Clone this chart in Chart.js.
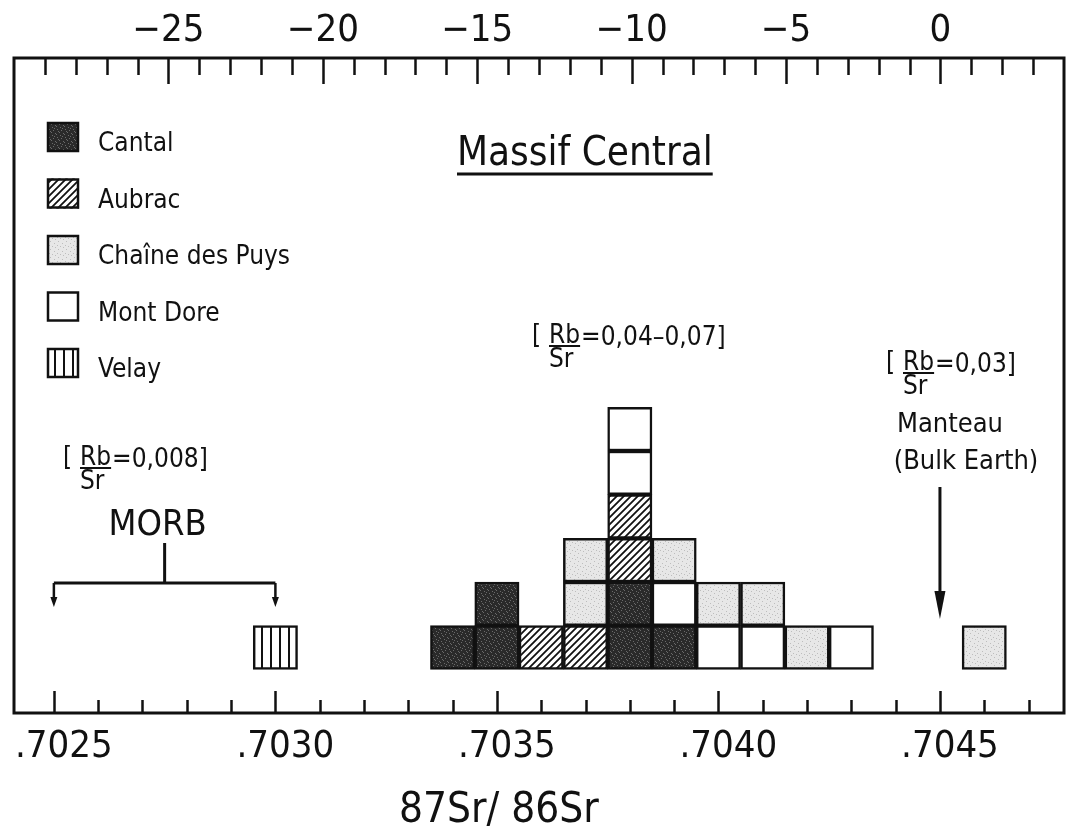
<!DOCTYPE html>
<html>
<head>
<meta charset="utf-8">
<script src="https://cdn.jsdelivr.net/npm/chart.js@4.4.0/dist/chart.umd.min.js"></script>
<style>
  html, body { margin: 0; padding: 0; background: #fff; }
  #wrap { width: 1074px; height: 830px; position: relative; }
</style>
</head>
<body>
<div id="wrap"><canvas id="c"></canvas></div>
<script>
// ── DATA ─────────────────────────────────────────────────────
// 87Sr/86Sr bin centres (bins are .0001 wide)
const bins     = [0.7030, 0.7034, 0.7035, 0.7036, 0.7037, 0.7038, 0.7039, 0.7040, 0.7041, 0.7042, 0.7043, 0.7046];
// samples per bin for each province
const cantal   = [0, 1, 2, 0, 0, 2, 1, 0, 0, 0, 0, 0];
const velay    = [1, 0, 0, 0, 0, 0, 0, 0, 0, 0, 0, 0];
const aubrac   = [0, 0, 0, 1, 1, 2, 0, 0, 0, 0, 0, 0];
const montDore = [0, 0, 0, 0, 0, 2, 1, 1, 1, 0, 1, 0];
const puys     = [0, 0, 0, 0, 2, 0, 1, 1, 1, 1, 0, 1];

const ratioTickValues = [0.7025, 0.7030, 0.7035, 0.7040, 0.7045];
const ratioTickLabels = ['.7025', '.7030', '.7035', '.7040', '.7045'];
const epsTickValues   = [-25, -20, -15, -10, -5, 0];
const epsTickLabels   = ['\u221225', '\u221220', '\u221215', '\u221210', '\u22125', '0'];

const legendNames = ['Cantal', 'Aubrac', 'Cha\u00eene des Puys', 'Mont Dore', 'Velay'];

const MORB_RANGE = [0.7025, 0.7030];
const BULK_EARTH = 0.7045;

const INK  = '#111';
const TEXT = 'DejaVu Sans Condensed';

// ── FILL PATTERNS ────────────────────────────────────────────
const canvas = document.getElementById('c');
const mainCtx = canvas.getContext('2d');

function makePattern(w, h, paint) {
  const t = document.createElement('canvas');
  t.width = w; t.height = h;
  paint(t.getContext('2d'), w, h);
  return mainCtx.createPattern(t, 'repeat');
}

function speckle(base, dot, dots) {
  return makePattern(8, 8, g => {
    g.fillStyle = base; g.fillRect(0, 0, 8, 8);
    g.fillStyle = dot;
    dots.forEach(([x, y]) => g.fillRect(x, y, 1, 1));
  });
}

const FILLS = {
  'Cantal': speckle('#2a2a2a', '#6a6a6a', [[1,1],[5,2],[3,4],[7,5],[0,6],[4,7],[6,0],[2,3]]),
  'Chaîne des Puys': speckle('#e7e7e7', '#bdbdbd', [[2,1],[6,3],[1,5],[4,6],[7,7]]),
  'Mont Dore': '#ffffff',
  'Aubrac': makePattern(7, 7, g => {
    g.fillStyle = '#fff'; g.fillRect(0, 0, 7, 7);
    g.strokeStyle = INK; g.lineWidth = 1.8;
    g.beginPath();
    g.moveTo(-1, 8); g.lineTo(8, -1);
    g.moveTo(-3, 3); g.lineTo(3, -3);
    g.moveTo(4, 10); g.lineTo(10, 4);
    g.stroke();
  }),
  'Velay': makePattern(9, 4, g => {
    g.fillStyle = '#fff'; g.fillRect(0, 0, 9, 4);
    g.fillStyle = INK; g.fillRect(0, 0, 2, 4);
  }),
};

// stacking order, bottom -> top
const SERIES = [
  ['Cantal', cantal],
  ['Velay', velay],
  ['Aubrac', aubrac],
  ['Mont Dore', montDore],
  ['Chaîne des Puys', puys],
];

// one dataset per layer so every sample is its own box
const datasets = [];
SERIES.forEach(([name, counts]) => {
  const layers = Math.max(...counts);
  for (let k = 1; k <= layers; k++) {
    datasets.push({
      label: name,
      data: bins.filter((b, i) => counts[i] >= k).map(b => ({ x: b, y: 1 })),
      backgroundColor: FILLS[name],
      borderColor: INK,
      borderWidth: 2.5,
      borderSkipped: false,
      barPercentage: 1,
      categoryPercentage: 1,
    });
  }
});

// ── DECORATION PLUGIN ────────────────────────────────────────
function drawRatio(ctx, x0, base, value) {
  ctx.font = `26px "${TEXT}"`;
  ctx.textAlign = 'left';
  ctx.textBaseline = 'alphabetic';
  ctx.fillText('[', x0, base);
  const xr = x0 + 17;
  const wRb = ctx.measureText('Rb').width;
  ctx.fillText('Rb', xr, base);
  ctx.lineWidth = 2;
  ctx.beginPath(); ctx.moveTo(xr, base + 3); ctx.lineTo(xr + wRb, base + 3); ctx.stroke();
  ctx.fillText('Sr', xr, base + 24);
  ctx.fillText(value, xr + wRb + 1, base + 2);
}

function arrowDown(ctx, x, y0, y1, headLen, headW) {
  ctx.beginPath(); ctx.moveTo(x, y0); ctx.lineTo(x, y1 - headLen + 2); ctx.stroke();
  ctx.beginPath();
  ctx.moveTo(x - headW / 2, y1 - headLen);
  ctx.lineTo(x + headW / 2, y1 - headLen);
  ctx.lineTo(x, y1);
  ctx.closePath(); ctx.fill();
}

const overlay = {
  id: 'overlay',
  afterDraw(chart) {
    const { ctx, chartArea: a, scales: { x, x2 } } = chart;
    ctx.save();
    ctx.strokeStyle = INK; ctx.fillStyle = INK;

    // frame
    ctx.lineWidth = 3;
    ctx.strokeRect(a.left, a.top, a.right - a.left, a.bottom - a.top);

    // bottom ticks, every .0001, long every .0005
    ctx.lineWidth = 2.5;
    for (let i = Math.ceil(x.min * 1e4); i / 1e4 <= x.max; i++) {
      const px = Math.round(x.getPixelForValue(i / 1e4)) + 0.5;
      const len = i % 5 === 0 ? 22 : 13;
      ctx.beginPath(); ctx.moveTo(px, a.bottom); ctx.lineTo(px, a.bottom - len); ctx.stroke();
    }
    // top ticks, every epsilon unit, long every 5
    for (let e = Math.floor(x2.min) + 1; e < x2.max; e++) {
      const px = Math.round(x2.getPixelForValue(e)) + 0.5;
      const len = e % 5 === 0 ? 26 : 17;
      ctx.beginPath(); ctx.moveTo(px, a.top); ctx.lineTo(px, a.top + len); ctx.stroke();
    }

    // legend
    const lx = a.left + 33, ly = 122, gap = 56.5, bw = 32, bh = 30;
    legendNames.forEach((n, i) => {
      const y = ly + i * gap;
      ctx.fillStyle = FILLS[n];
      ctx.fillRect(lx, y, bw, bh);
      ctx.lineWidth = 2.5;
      ctx.strokeRect(lx + 1, y + 1, bw - 2, bh - 2);
      ctx.fillStyle = INK;
      ctx.font = `26px "${TEXT}"`;
      ctx.textAlign = 'left'; ctx.textBaseline = 'alphabetic';
      ctx.fillText(n, lx + 51, y + bh - 1);
    });

    // title
    ctx.font = `40px "${TEXT}"`;
    ctx.textAlign = 'left'; ctx.textBaseline = 'alphabetic';
    ctx.fillText('Massif Central', 457, 165);
    const wt = ctx.measureText('Massif Central').width;
    ctx.lineWidth = 3;
    ctx.beginPath(); ctx.moveTo(457, 174); ctx.lineTo(457 + wt, 174); ctx.stroke();

    // Rb/Sr notes
    drawRatio(ctx, 532, 343, '=0,04\u20130,07]');
    drawRatio(ctx, 63, 465, '=0,008]');
    drawRatio(ctx, 886, 370, '=0,03]');

    // MORB bracket
    const m0 = x.getPixelForValue(MORB_RANGE[0]);
    const m1 = x.getPixelForValue(MORB_RANGE[1]);
    const mc = x.getPixelForValue((MORB_RANGE[0] + MORB_RANGE[1]) / 2);
    ctx.font = `36px "${TEXT}"`;
    ctx.textAlign = 'center';
    ctx.fillText('MORB', mc - 7, 535);
    ctx.lineWidth = 3;
    ctx.beginPath();
    ctx.moveTo(mc, 543); ctx.lineTo(mc, 583);
    ctx.moveTo(m0, 583); ctx.lineTo(m1, 583);
    ctx.stroke();
    ctx.lineWidth = 2.5;
    arrowDown(ctx, m0, 583, 607, 10, 7);
    arrowDown(ctx, m1, 583, 607, 10, 7);

    // bulk earth
    const be = x.getPixelForValue(BULK_EARTH);
    ctx.font = `27px "${TEXT}"`;
    ctx.textAlign = 'center';
    ctx.fillText('Manteau', 950, 432);
    ctx.fillText('(Bulk Earth)', 966, 469);
    ctx.lineWidth = 3;
    arrowDown(ctx, be, 487, 619, 28, 11);

    // x axis title
    ctx.font = `42px "${TEXT}"`;
    ctx.textAlign = 'center';
    ctx.fillText('87Sr/ 86Sr', x.getPixelForValue(0.7035) + 2, 822);

    ctx.restore();
  },
};

// ── CHART ────────────────────────────────────────────────────
const noSidePadding = (s, h) => { s.height = h; s.paddingLeft = 0; s.paddingRight = 0; };

new Chart(canvas, {
  type: 'bar',
  data: { datasets },
  plugins: [overlay],
  options: {
    responsive: true,
    maintainAspectRatio: false,
    animation: false,
    layout: { padding: { left: 14, right: 10, top: 0, bottom: 0 } },
    plugins: { legend: { display: false }, tooltip: { enabled: false } },
    scales: {
      x: {
        type: 'linear',
        position: 'bottom',
        offset: false,
        stacked: true,
        min: 0.70241,
        max: 0.70478,
        grid: { display: false, offset: false },
        border: { display: false },
        afterBuildTicks: s => { s.ticks = ratioTickValues.map(value => ({ value })); },
        afterFit: s => noSidePadding(s, 117),
        ticks: {
          autoSkip: false,
          maxRotation: 0,
          padding: 7,
          labelOffset: 10,
          color: INK,
          font: { family: TEXT, size: 38, lineHeight: 1 },
          callback: (v, i) => ratioTickLabels[i],
        },
      },
      x2: {
        type: 'linear',
        position: 'top',
        offset: false,
        min: -30,
        max: 4,
        grid: { display: false, offset: false },
        border: { display: false },
        afterBuildTicks: s => { s.ticks = epsTickValues.map(value => ({ value })); },
        afterFit: s => noSidePadding(s, 58),
        ticks: {
          autoSkip: false,
          maxRotation: 0,
          padding: 0,
          color: INK,
          font: { family: TEXT, size: 38, lineHeight: 1 },
          callback: (v, i) => epsTickLabels[i],
        },
      },
      y: {
        display: false,
        stacked: true,
        min: -1,
        max: 14,
      },
    },
  },
});
</script>
</body>
</html>
